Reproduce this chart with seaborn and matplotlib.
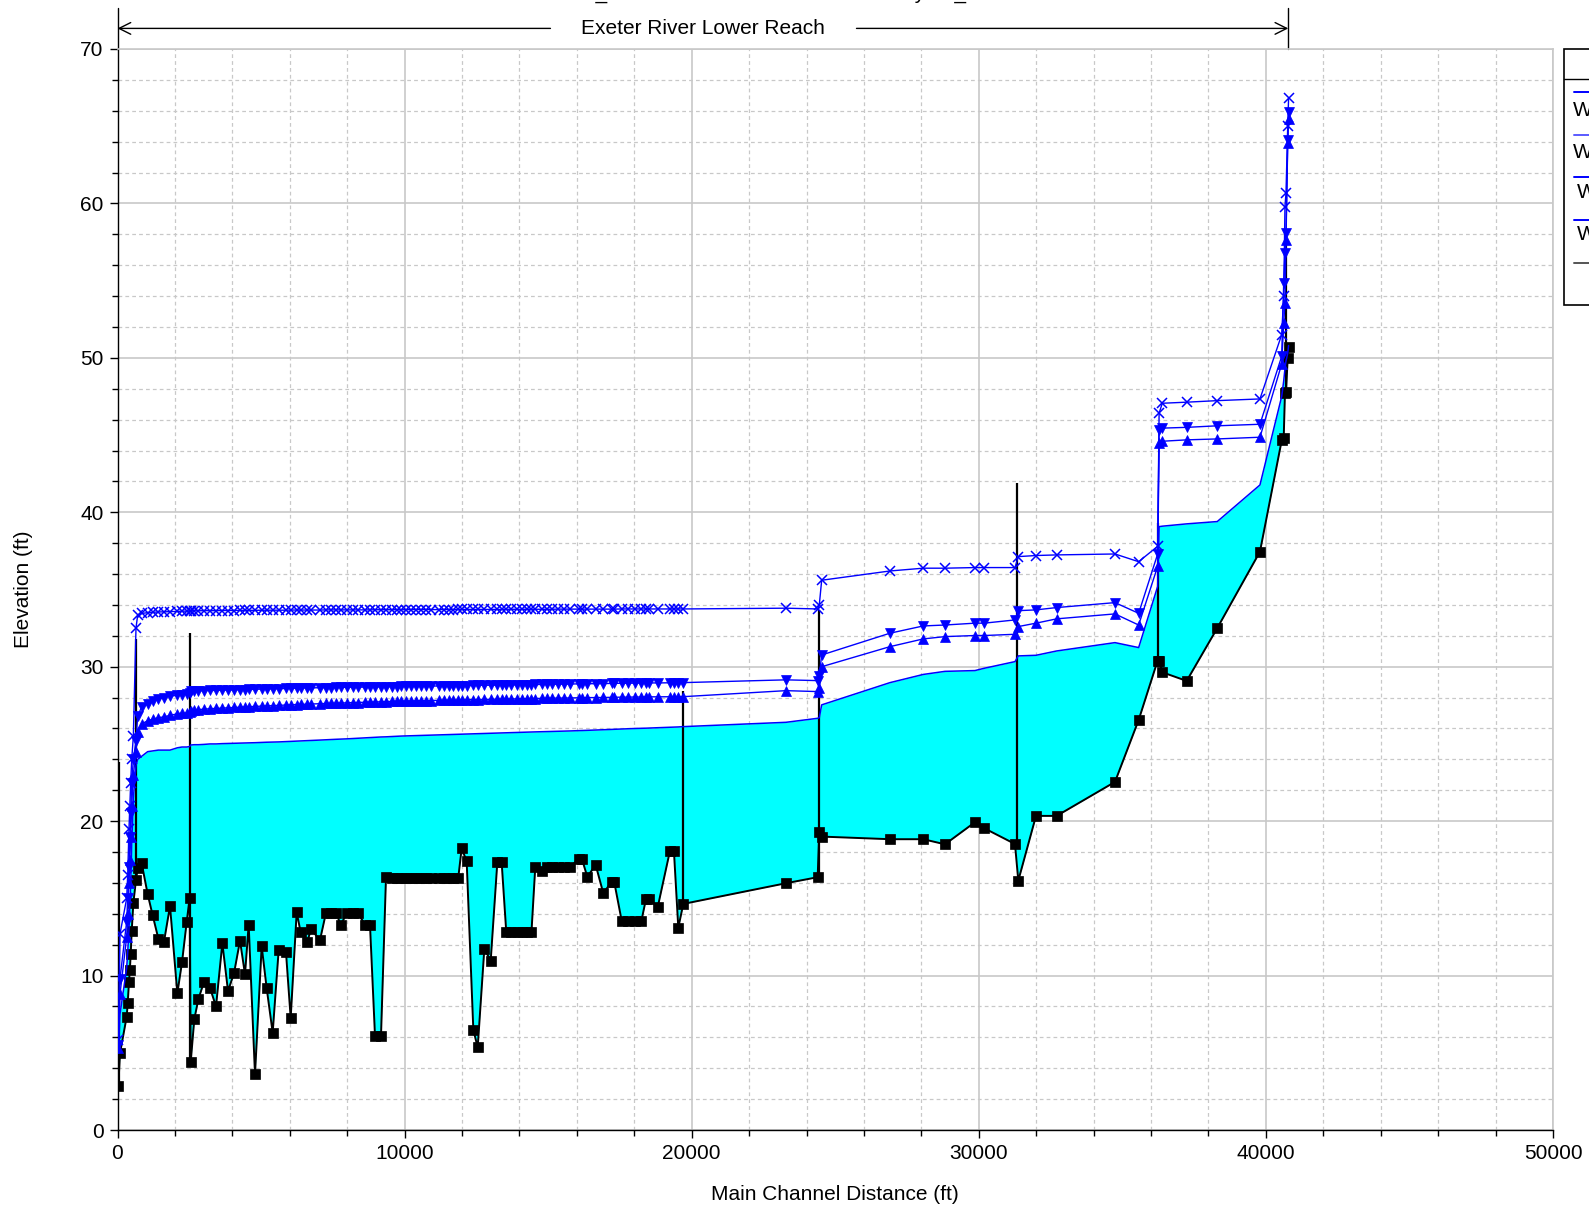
import numpy as np
import pandas as pd
import seaborn as sns
import matplotlib.pyplot as plt
from matplotlib.ticker import MultipleLocator
from matplotlib.transforms import blended_transform_factory
from matplotlib.patches import Rectangle
from matplotlib.lines import Line2D

# main channel stations (ft) of the cross sections
station = [
    28, 87, 320, 355, 400, 430, 460, 495, 552, 644, 703, 842,
    1051, 1225, 1422, 1620, 1829, 2084, 2247, 2410, 2514, 2549,
    2676, 2816, 3013, 3222, 3431, 3652, 3849, 4058, 4267, 4441,
    4569, 4789, 5022, 5196, 5405, 5614, 5869, 6032, 6241, 6380,
    6612, 6740, 7053, 7262, 7425, 7610, 7773, 8004, 8190, 8365,
    8620, 8794, 8969, 9178, 9352, 9550, 9720, 9890, 10060, 10230,
    10400, 10570, 10740, 10910, 11190, 11360, 11530, 11700, 11870, 11988,
    12162, 12394, 12546, 12777, 12999, 13230, 13380, 13540, 13720, 13900,
    14080, 14260, 14420, 14552, 14775, 14950, 15150, 15350, 15550, 15750,
    16074, 16180, 16363, 16656, 16921, 17213, 17300, 17560, 17790, 18020,
    18250, 18408, 18520, 18815, 19244, 19380, 19533, 19707,
    23284, 24387, 24444, 24527, 26906, 28066, 28822, 29866, 30190, 31260,
    31376, 31992, 32712, 34743, 35568, 36230, 36280, 36391, 37240, 38306,
    39793, 40550, 40620, 40664, 40700, 40760, 40790,
]

# channel invert (ground)
ground = [
    2.85, 4.97, 7.34, 8.2, 9.6, 10.36, 11.4, 12.9, 14.7, 16.2, 16.95, 17.27,
    15.27, 13.9, 12.4, 12.2, 14.5, 8.85, 10.86, 13.47, 15.05, 4.38,
    7.19, 8.46, 9.6, 9.2, 8.0, 12.1, 9.0, 10.15, 12.26, 10.08,
    13.3, 3.6, 11.9, 9.18, 6.3, 11.66, 11.5, 7.25, 14.1, 12.8,
    12.2, 13.0, 12.3, 14.07, 14.07, 14.07, 13.3, 14.07, 14.07, 14.07,
    13.3, 13.3, 6.1, 6.1, 16.37, 16.35, 16.35, 16.35, 16.35, 16.35,
    16.35, 16.35, 16.35, 16.35, 16.35, 16.35, 16.35, 16.35, 16.35, 18.24,
    17.4, 6.48, 5.35, 11.72, 10.97, 17.34, 17.34, 12.85, 12.85, 12.85,
    12.85, 12.85, 12.85, 17.05, 16.77, 17.05, 17.05, 17.05, 17.05, 17.05,
    17.53, 17.53, 16.4, 17.16, 15.33, 16.08, 16.08, 13.56, 13.56, 13.56,
    13.56, 14.96, 14.96, 14.42, 18.09, 18.09, 13.1, 14.64,
    15.98, 16.37, 19.28, 19.0, 18.83, 18.83, 18.5, 19.93, 19.54, 18.52,
    16.15, 20.34, 20.34, 22.54, 26.55, 30.4, 30.4, 29.64, 29.08, 32.5,
    37.45, 44.65, 44.8, 47.75, 47.8, 50.0, 50.73,
]

# water surface, lowest profile (top of the cyan fill)
ws_low = [
    5.0, 7.5, 10.5, 11.5, 13.0, 14.5, 16.0, 18.5, 21.5, 23.6, 24.0, 24.2,
    24.5, 24.55, 24.6, 24.6, 24.6, 24.75, 24.8, 24.8, 24.83, 24.93,
    24.95, 24.95, 24.97, 25.0, 25.0, 25.02, 25.03, 25.04, 25.05, 25.06,
    25.07, 25.08, 25.1, 25.11, 25.12, 25.13, 25.15, 25.16, 25.18, 25.19,
    25.21, 25.22, 25.25, 25.27, 25.28, 25.3, 25.31, 25.33, 25.35, 25.37,
    25.39, 25.41, 25.43, 25.45, 25.46, 25.48, 25.5, 25.51, 25.52, 25.53,
    25.54, 25.55, 25.56, 25.57, 25.59, 25.6, 25.61, 25.62, 25.63, 25.64,
    25.65, 25.66, 25.67, 25.68, 25.69, 25.7, 25.71, 25.72, 25.73, 25.74,
    25.75, 25.76, 25.77, 25.78, 25.79, 25.8, 25.81, 25.82, 25.83, 25.84,
    25.86, 25.87, 25.88, 25.9, 25.92, 25.94, 25.95, 25.97, 25.98, 26.0,
    26.01, 26.02, 26.03, 26.05, 26.08, 26.09, 26.1, 26.12,
    26.4, 26.66, 26.7, 27.53, 28.97, 29.5, 29.7, 29.75, 29.9, 30.33,
    30.7, 30.74, 31.02, 31.56, 31.24, 35.2, 39.07, 39.1, 39.25, 39.4,
    41.77, 47.5, 48.5, 49.3, 49.8, 50.3, 50.8,
]

# water surface, triangle-up profile
ws_up = [
    5.3, 8.8, 12.5, 14.0, 16.0, 17.5, 19.0, 21.0, 23.0, 24.5, 25.8, 26.3,
    26.5, 26.6, 26.7, 26.75, 26.85, 26.95, 27.0, 27.0, 27.05, 27.15,
    27.2, 27.22, 27.25, 27.28, 27.3, 27.32, 27.34, 27.36, 27.38, 27.4,
    27.41, 27.43, 27.45, 27.46, 27.48, 27.5, 27.52, 27.53, 27.55, 27.56,
    27.58, 27.59, 27.61, 27.62, 27.63, 27.64, 27.65, 27.66, 27.67, 27.68,
    27.7, 27.71, 27.72, 27.73, 27.74, 27.75, 27.76, 27.77, 27.78, 27.78,
    27.79, 27.8, 27.8, 27.81, 27.82, 27.83, 27.83, 27.84, 27.85, 27.85,
    27.86, 27.87, 27.87, 27.88, 27.89, 27.9, 27.9, 27.91, 27.91, 27.92,
    27.93, 27.93, 27.94, 27.94, 27.95, 27.96, 27.96, 27.97, 27.97, 27.98,
    27.99, 27.99, 28.0, 28.0, 28.01, 28.02, 28.02, 28.03, 28.03, 28.04,
    28.04, 28.05, 28.05, 28.05, 28.06, 28.06, 28.06, 28.06,
    28.45, 28.39, 28.6, 30.0, 31.3, 31.8, 31.95, 32.02, 32.02, 32.1,
    32.6, 32.82, 33.1, 33.42, 32.7, 36.5, 44.47, 44.6, 44.69, 44.75,
    44.86, 49.6, 52.25, 53.54, 57.6, 63.9, 65.46,
]

# water surface, triangle-down profile
ws_down = [
    5.5, 9.8, 13.5, 15.0, 17.0, 19.0, 20.5, 22.5, 24.0, 25.2, 26.8, 27.4,
    27.6, 27.75, 27.9, 28.0, 28.1, 28.15, 28.2, 28.25, 28.3, 28.4,
    28.42, 28.44, 28.45, 28.46, 28.47, 28.48, 28.49, 28.5, 28.51, 28.52,
    28.53, 28.54, 28.55, 28.56, 28.57, 28.58, 28.59, 28.6, 28.61, 28.62,
    28.63, 28.63, 28.64, 28.65, 28.65, 28.66, 28.66, 28.67, 28.67, 28.68,
    28.68, 28.69, 28.69, 28.7, 28.7, 28.71, 28.71, 28.72, 28.72, 28.73,
    28.73, 28.74, 28.74, 28.75, 28.75, 28.76, 28.76, 28.77, 28.77, 28.78,
    28.78, 28.79, 28.79, 28.8, 28.8, 28.81, 28.81, 28.82, 28.82, 28.83,
    28.83, 28.84, 28.84, 28.85, 28.85, 28.86, 28.86, 28.87, 28.87, 28.88,
    28.89, 28.89, 28.9, 28.9, 28.91, 28.92, 28.92, 28.93, 28.93, 28.94,
    28.94, 28.95, 28.95, 28.95, 28.96, 28.96, 28.97, 28.97,
    29.15, 29.1, 29.4, 30.76, 32.17, 32.64, 32.7, 32.82, 32.82, 33.03,
    33.63, 33.68, 33.83, 34.15, 33.46, 37.3, 45.34, 45.45, 45.5, 45.6,
    45.7, 50.1, 54.84, 56.78, 58.07, 64.1, 65.95,
]

# water surface, highest profile (x markers)
ws_cross = [
    5.8, 12.7, 15.0, 16.5, 19.5, 21.0, 22.5, 24.0, 25.5, 32.5, 33.35, 33.45,
    33.5, 33.52, 33.55, 33.55, 33.57, 33.58, 33.6, 33.6, 33.6, 33.62,
    33.62, 33.62, 33.63, 33.63, 33.63, 33.64, 33.64, 33.64, 33.65, 33.65,
    33.65, 33.65, 33.66, 33.66, 33.66, 33.66, 33.66, 33.67, 33.67, 33.67,
    33.67, 33.67, 33.67, 33.68, 33.68, 33.68, 33.68, 33.68, 33.68, 33.68,
    33.68, 33.68, 33.69, 33.69, 33.69, 33.69, 33.69, 33.69, 33.69, 33.7,
    33.7, 33.7, 33.7, 33.7, 33.7, 33.7, 33.7, 33.7, 33.71, 33.71,
    33.71, 33.71, 33.71, 33.71, 33.71, 33.71, 33.71, 33.72, 33.72, 33.72,
    33.72, 33.72, 33.72, 33.72, 33.72, 33.72, 33.72, 33.73, 33.73, 33.73,
    33.73, 33.73, 33.73, 33.73, 33.73, 33.73, 33.73, 33.74, 33.74, 33.74,
    33.74, 33.74, 33.74, 33.74, 33.74, 33.74, 33.74, 33.74,
    33.79, 33.74, 34.0, 35.6, 36.2, 36.38, 36.38, 36.42, 36.42, 36.42,
    37.13, 37.2, 37.24, 37.3, 36.8, 37.8, 46.42, 47.06, 47.13, 47.23,
    47.34, 51.5, 54.0, 59.8, 60.67, 65.0, 66.8,
]

# bridges / structures drawn as vertical lines
struct_x = [63, 644, 2525, 19700, 24440, 31318, 36252, 40700]
struct_bottom = [2.9, 16.2, 4.4, 14.6, 16.4, 18.5, 30.4, 47.8]
struct_top = [23.8, 31.8, 32.2, 28.4, 33.7, 41.9, 39.3, 58.0]

reach_name = "Exeter River Lower Reach"
reach_end = 40780
legend_labels = ["WS 500 yr", "WS 100 yr", "WS 50 yr", "WS 10 yr"]

df = pd.DataFrame({"station": station, "ground": ground, "ws_low": ws_low,
                   "ws_up": ws_up, "ws_down": ws_down, "ws_cross": ws_cross})

sns.set_theme(style="white")
plt.rcParams["font.family"] = ["Liberation Sans", "DejaVu Sans"]
plt.rcParams["text.color"] = "black"

W, H = 1589, 1208
fig = plt.figure(figsize=(W / 100, H / 100), dpi=100)
ax = fig.add_axes([117.5 / W, 1 - 1130 / H, (1553 - 117.5) / W, (1130 - 49) / H])

ax.fill_between(df.station, df.ground, df.ws_low, color="#00ffff", lw=0, zorder=1)
ax.vlines(struct_x, struct_bottom, struct_top, colors="black", lw=1.6, zorder=2)

sns.lineplot(data=df, x="station", y="ground", ax=ax, color="black", lw=1.4,
             marker="s", markersize=6.8, markeredgecolor="black", markeredgewidth=0.5,
             estimator=None, sort=False, zorder=3)
sns.lineplot(data=df, x="station", y="ws_low", ax=ax, color="#0000ff", lw=1.1,
             estimator=None, sort=False, zorder=4)
sns.lineplot(data=df, x="station", y="ws_up", ax=ax, color="#0000ff", lw=1.0,
             marker="^", markersize=7, markeredgecolor="#0000ff", markeredgewidth=0.5,
             estimator=None, sort=False, zorder=5)
sns.lineplot(data=df, x="station", y="ws_down", ax=ax, color="#0000ff", lw=1.0,
             marker="v", markersize=7, markeredgecolor="#0000ff", markeredgewidth=0.5,
             estimator=None, sort=False, zorder=5)
sns.lineplot(data=df, x="station", y="ws_cross", ax=ax, color="#0000ff", lw=1.0,
             marker="x", markersize=6.5, markeredgecolor="#0000ff", markeredgewidth=1.1,
             estimator=None, sort=False, zorder=5)

ax.set_xlim(0, 50000)
ax.set_ylim(0, 70)
ax.xaxis.set_major_locator(MultipleLocator(10000))
ax.xaxis.set_minor_locator(MultipleLocator(2000))
ax.yaxis.set_major_locator(MultipleLocator(10))
ax.yaxis.set_minor_locator(MultipleLocator(2))
ax.grid(which="major", color="#c8c8c8", lw=1.2, ls="-")
ax.grid(which="minor", color="#c8c8c8", lw=0.9, ls=(0, (3, 2.5)))
ax.set_axisbelow(True)
ax.tick_params(which="both", direction="out", left=True, bottom=True,
               colors="black", labelsize=15)
ax.tick_params(which="major", length=6, width=1, pad=4)
ax.tick_params(which="minor", length=4, width=1)
for side in ["left", "bottom"]:
    ax.spines[side].set_color("black")
    ax.spines[side].set_linewidth(1)
for side in ["top", "right"]:
    ax.spines[side].set_color("#c8c8c8")
    ax.spines[side].set_linewidth(1.2)

ax.set_xlabel("Main Channel Distance (ft)", fontsize=15, labelpad=16, color="black")
ax.set_ylabel("Elevation (ft)", fontsize=15, labelpad=34, color="black")

# reach marker above the plot
trans = blended_transform_factory(ax.transData, ax.transAxes)
y_arrow = 1 + (49 - 28.4) / 1081
y_tick_top = 1 + (49 - 8) / 1081
arrow = dict(arrowstyle="->,head_length=0.7,head_width=0.35", lw=1, color="black",
             shrinkA=0, shrinkB=0)
ax.annotate("", xy=(0, y_arrow), xytext=(15080, y_arrow), xycoords=trans,
            textcoords=trans, arrowprops=arrow, annotation_clip=False)
ax.annotate("", xy=(reach_end, y_arrow), xytext=(25740, y_arrow), xycoords=trans,
            textcoords=trans, arrowprops=arrow, annotation_clip=False)
ax.text(reach_end / 2, y_arrow, reach_name, transform=trans, ha="center",
        va="center", fontsize=15)
for xv in [0, reach_end]:
    ax.plot([xv, xv], [1, y_tick_top], transform=trans, color="black", lw=1,
            clip_on=False)

# title, mostly cut off at the top edge as in the original
fig.text(535 / W, 1 + 1.5 / H, "Exeter_River    Plan: Base Model   Steady 01_Flow",
         ha="left", va="baseline", fontsize=15)

# legend box, cut off by the right edge
def fx(px):
    return px / W


def fy(py):
    return 1 - py / H


fig.patches.append(Rectangle((fx(1564), fy(305)), fx(60), (305 - 49) / H,
                             transform=fig.transFigure, facecolor="white",
                             edgecolor="black", lw=1.2))
fig.lines.append(Line2D([fx(1564), fx(1600)], [fy(79), fy(79)],
                        transform=fig.transFigure, color="black", lw=1))
leg_y = [92, 135, 177, 220, 263]
leg_c = ["#0000ff", "#5a5aff", "#0000ff", "#0000ff", "#555555"]
for yy, cc in zip(leg_y, leg_c):
    fig.lines.append(Line2D([fx(1574), fx(1600)], [fy(yy), fy(yy)],
                            transform=fig.transFigure, color=cc, lw=1.4))
for lbl, yy, xx in zip(legend_labels, [110, 152, 193, 235], [1573, 1573, 1577, 1577]):
    fig.text(fx(xx), fy(yy), lbl, ha="left", va="center", fontsize=15)

fig.savefig("out.png", dpi=100)
